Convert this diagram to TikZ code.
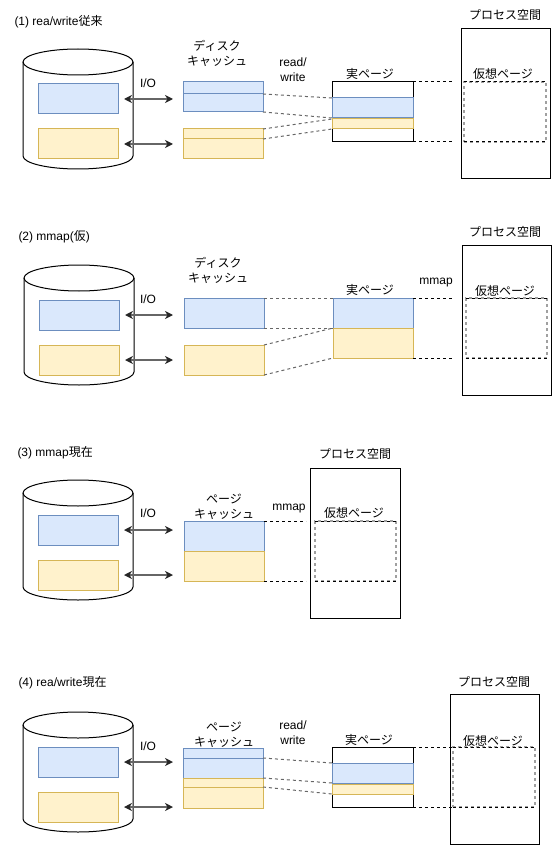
\documentclass[tikz,border=0pt]{standalone}
\usepackage{fontspec}
\setmainfont{Liberation Sans}
\newfontfamily\jp{Noto Sans CJK JP}
\usetikzlibrary{arrows.meta}

\definecolor{bluefill}{HTML}{DAE8FC}
\definecolor{blueline}{HTML}{6C8EBF}
\definecolor{yelfill}{HTML}{FFF2CC}
\definecolor{yelline}{HTML}{D6B656}
\definecolor{iogray}{HTML}{666666}
\definecolor{vgray}{HTML}{A0A0A0}

\tikzset{
	box/.style={draw, inner sep=0pt, outer sep=0pt, anchor=north west},
	bluebox/.style={box, draw=blueline, fill=bluefill},
	yelbox/.style={box, draw=yelline, fill=yelfill},
	cache/.style={minimum width=80pt, minimum height=30pt},
	vbox/.style={box, draw=vgray, line width=1.5pt, dash pattern=on 3pt off 3pt},
	io/.style={iogray, line width=1.5pt, {Stealth[length=8pt,width=8pt,inset=2.5pt,color=black!85]}-{Stealth[length=8pt,width=8pt,inset=2.5pt,color=black!85]}},
	link/.style={iogray, dash pattern=on 3pt off 3pt},
	maplink/.style={black, dash pattern=on 3pt off 3pt},
	jp/.style={font=\fontsize{12}{15}\selectfont\jp, align=center, inner sep=0pt},
	lbl/.style={inner sep=0pt, align=center},
}

\begin{document}
\begin{tikzpicture}[x=1pt, y=-1pt, line width=1pt, font=\fontsize{12}{15}\selectfont]
	\useasboundingbox (0,0) rectangle (552,845);
	
	% (1) rea/write従来
	\node[lbl, anchor=west] (t1) at (14,22) {(1) rea/write{\jp 従来}};
	\draw (23,62) -- (23,156) arc[start angle=180, end angle=360, x radius=55pt, y radius=13pt] -- (133,62);
	\draw (78,62) ellipse[x radius=55pt, y radius=13pt];
	\node[bluebox, cache] (d1b) at (38,84) {};
	\node[yelbox, cache] (d1y) at (38,129) {};
	\draw[io] ([xshift=6pt]d1b.east) -- ++(49,0);
	\draw[io] ([xshift=6pt]d1y.east) -- ++(49,0);
	\node[lbl] (io1) at (148,83) {I/O};
	\node[jp] (cl1) at (217,53) {ディスク\\キャッシュ};
	\node[bluebox, cache] (c1b) at (183,82) {};
	\draw[blueline] ([yshift=-12pt]c1b.north west) -- ([yshift=-12pt]c1b.north east) coordinate (c1bm);
	\node[yelbox, cache] (c1y) at (183,129) {};
	\draw[yelline] ([yshift=-10pt]c1y.north west) -- ([yshift=-10pt]c1y.north east) coordinate (c1ym);
	\node[lbl] (rw1) at (293,70) {read/\\write};
	\node[jp] (pl1) at (370,74) {実ページ};
	\node[box, minimum width=81pt, minimum height=60pt] (p1) at (332,82) {};
	\node[bluebox, minimum width=81pt, minimum height=20pt] (p1b) at (332,98) {};
	\node[yelbox, minimum width=81pt, minimum height=10pt] (p1y) at (332,119) {};
	\draw[link] (c1bm) -- (p1b.north west);
	\draw[link] (c1b.south east) -- (p1b.south west);
	\draw[link] (c1y.north east) -- (p1y.north west);
	\draw[link] (c1ym) -- (p1y.south west);
	\draw[maplink] (p1.north east) -- ++(40,0);
	\draw[maplink] (p1.south east) -- ++(40,0);
	\node[jp] (sl1) at (505,15) {プロセス空間};
	\node[box, minimum width=89pt, minimum height=150pt] (s1) at (461,29) {};
	\node[jp] (vl1) at (503,74) {仮想ページ};
	\node[vbox, minimum width=82pt, minimum height=60pt] (v1) at (464,82) {};
	\draw[maplink] (v1.north west) -- (v1.north east);
	\draw[maplink] (v1.south west) -- (v1.south east);
	
	% (2) mmap(仮)
	\node[lbl, anchor=west] (t2) at (18,237) {(2) mmap({\jp 仮})};
	\draw (24,278) -- (24,372) arc[start angle=180, end angle=360, x radius=55pt, y radius=13pt] -- (134,278);
	\draw (79,278) ellipse[x radius=55pt, y radius=13pt];
	\node[bluebox, cache] (d2b) at (39,300) {};
	\node[yelbox, cache] (d2y) at (39,345) {};
	\draw[io] ([xshift=6pt]d2b.east) -- ++(48,0);
	\draw[io] ([xshift=6pt]d2y.east) -- ++(48,0);
	\node[lbl] (io2) at (148,299) {I/O};
	\node[jp] (cl2) at (218,270) {ディスク\\キャッシュ};
	\node[bluebox, cache] (c2b) at (184,298) {};
	\node[yelbox, cache] (c2y) at (184,345) {};
	\node[jp] (pl2) at (370,290) {実ページ};
	\node[bluebox, cache] (p2b) at (333,298) {};
	\node[yelbox, cache] (p2y) at (333,328) {};
	\draw[link] (c2b.north east) -- (p2b.north west);
	\draw[link] (c2b.south east) -- (p2b.south west);
	\draw[link] (c2y.north east) -- (p2y.north west);
	\draw[link] (c2y.south east) -- (p2y.south west);
	\node[lbl] (mm2) at (436,283) {mmap};
	\draw[maplink] (p2b.north east) -- ++(41,0);
	\draw[maplink] (p2y.south east) -- ++(41,0);
	\node[jp] (sl2) at (505,232) {プロセス空間};
	\node[box, minimum width=89pt, minimum height=150pt] (s2) at (462,245) {};
	\node[jp] (vl2) at (505,291) {仮想ページ};
	\node[vbox, minimum width=81pt, minimum height=60pt] (v2) at (466,298) {};
	\draw[maplink] (v2.north west) -- (v2.north east);
	\draw[maplink] (v2.south west) -- (v2.south east);
	
	% (3) mmap現在
	\node[lbl, anchor=west] (t3) at (17,453) {(3) mmap{\jp 現在}};
	\draw (23,493) -- (23,587) arc[start angle=180, end angle=360, x radius=55pt, y radius=13pt] -- (133,493);
	\draw (78,493) ellipse[x radius=55pt, y radius=13pt];
	\node[bluebox, cache] (d3b) at (38,515) {};
	\node[yelbox, cache] (d3y) at (38,560) {};
	\draw[io] ([xshift=6pt]d3b.east) -- ++(49,0);
	\draw[io] ([xshift=6pt]d3y.east) -- ++(49,0);
	\node[lbl] (io3) at (148,513) {I/O};
	\node[jp] (cl3) at (224,507) {ページ\\キャッシュ};
	\node[bluebox, cache] (c3b) at (184,521) {};
	\node[yelbox, cache] (c3y) at (184,551) {};
	\node[lbl] (mm3) at (289,509) {mmap};
	\draw[maplink] (c3b.north east) -- ++(42,0);
	\draw[maplink] (c3y.south east) -- ++(42,0);
	\node[jp] (sl3) at (355,454) {プロセス空間};
	\node[box, minimum width=90pt, minimum height=150pt] (s3) at (310,468) {};
	\node[jp] (vl3) at (354,513) {仮想ページ};
	\node[vbox, minimum width=81pt, minimum height=60pt] (v3) at (315,521) {};
	\draw[maplink] (v3.north west) -- (v3.north east);
	\draw[maplink] (v3.south west) -- (v3.south east);
	
	% (4) rea/write現在
	\node[lbl, anchor=west] (t4) at (18,683) {(4) rea/write{\jp 現在}};
	\draw (23,725) -- (23,819) arc[start angle=180, end angle=360, x radius=55pt, y radius=13pt] -- (133,725);
	\draw (78,725) ellipse[x radius=55pt, y radius=13pt];
	\node[bluebox, cache] (d4b) at (38,747) {};
	\node[yelbox, cache] (d4y) at (38,792) {};
	\draw[io] ([xshift=6pt]d4b.east) -- ++(49,0);
	\draw[io] ([xshift=6pt]d4y.east) -- ++(49,0);
	\node[lbl] (io4) at (148,746) {I/O};
	\node[jp] (cl4) at (224,735) {ページ\\キャッシュ};
	\node[bluebox, cache] (c4b) at (183,748) {};
	\draw[blueline] ([yshift=-10pt]c4b.north west) -- ([yshift=-10pt]c4b.north east) coordinate (c4bm);
	\node[yelbox, cache] (c4y) at (183,778) {};
	\draw[yelline] ([yshift=-9pt]c4y.north west) -- ([yshift=-9pt]c4y.north east) coordinate (c4ym);
	\node[lbl] (rw4) at (293,733) {read/\\write};
	\node[jp] (pl4) at (369,740) {実ページ};
	\node[box, minimum width=81pt, minimum height=60pt] (p4) at (332,747) {};
	\node[bluebox, minimum width=81pt, minimum height=20pt] (p4b) at (332,763) {};
	\node[yelbox, minimum width=81pt, minimum height=10pt] (p4y) at (332,784) {};
	\draw[link] (c4bm) -- (p4b.north west);
	\draw[link] (c4b.south east) -- (p4b.south west);
	\draw[link] (c4ym) -- (p4y.south west);
	\draw[maplink] (p4.north east) -- ++(40,0);
	\draw[maplink] (p4.south east) -- ++(40,0);
	\node[jp] (sl4) at (494,682) {プロセス空間};
	\node[box, minimum width=89pt, minimum height=150pt] (s4) at (450,694) {};
	\node[jp] (vl4) at (493,741) {仮想ページ};
	\node[vbox, minimum width=82pt, minimum height=60pt] (v4) at (453,747) {};
	\draw[maplink] (v4.north west) -- (v4.north east);
	\draw[maplink] (v4.south west) -- (v4.south east);
\end{tikzpicture}
\end{document}
